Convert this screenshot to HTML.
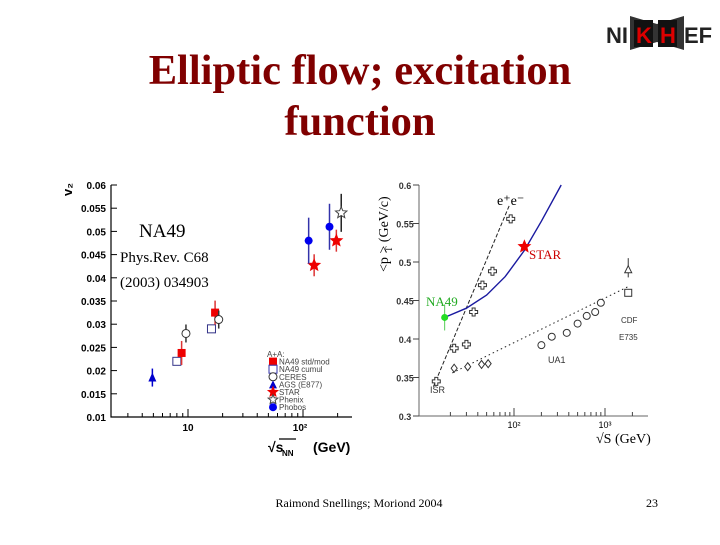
<!DOCTYPE html>
<html><head><meta charset="utf-8"><style>
body{margin:0;width:720px;height:540px;background:#fff;overflow:hidden;font-family:"Liberation Serif",serif}
svg text{font-family:"Liberation Sans",sans-serif}
</style></head><body>
<svg width="720" height="540">
<text x="360" y="84" text-anchor="middle" font-size="42.5" font-weight="bold" fill="#800000" style="font-family:'Liberation Serif',serif">Elliptic flow; excitation</text>
<text x="360" y="135" text-anchor="middle" font-size="42.5" font-weight="bold" fill="#800000" style="font-family:'Liberation Serif',serif">function</text>
<g>
<path d="M630,16 L657,24 L684,16 L684,50 L657,42 L630,50 Z" fill="#333"/>
<text x="606" y="43" font-size="22" font-weight="bold" fill="#222">NI</text>
<rect x="634" y="20" width="19" height="27" fill="#111"/><text x="636" y="43" font-size="22" font-weight="bold" fill="#d00">K</text>
<rect x="658" y="20" width="19" height="27" fill="#111"/><text x="660" y="43" font-size="22" font-weight="bold" fill="#d00">H</text>
<text x="684" y="43" font-size="22" font-weight="bold" fill="#222">EF</text>
</g>
<g id="left"></g>
<g id="right"></g>
<text x="359" y="507" text-anchor="middle" font-size="12" style="font-family:'Liberation Serif',serif">Raimond Snellings; Moriond 2004</text>
<text x="652" y="507" text-anchor="middle" font-size="12" style="font-family:'Liberation Serif',serif">23</text>
</svg>
<script>
const NS="http://www.w3.org/2000/svg";
// left chart data
const v2Ticks=[0.01,0.015,0.02,0.025,0.03,0.035,0.04,0.045,0.05,0.055,0.06];
const agsX=[4.9], agsY=[0.0185];
const na49cumX=[8.0,16.0], na49cumY=[0.022,0.029];
const na49stdX=[8.8,17.2], na49stdY=[0.0238,0.0325];
const ceresX=[9.6,18.5], ceresY=[0.028,0.031];
const starX=[125,195], starY=[0.0427,0.048];
const phenixX=[215], phenixY=[0.054];
const phobosX=[112,170], phobosY=[0.048,0.051];
// right chart data
const ptTicks=[0.3,0.35,0.4,0.45,0.5,0.55,0.6];
const eeX=[14,22,30,36,45,58,92], eeY=[0.345,0.388,0.393,0.435,0.47,0.488,0.556];
const isrX=[22,31,44,52], isrY=[0.362,0.364,0.367,0.368];
const ua1X=[200,260,380,500,630,780,900], ua1Y=[0.392,0.403,0.408,0.42,0.43,0.435,0.447];
const na49X=[17.3], na49Y=[0.428];
const starPtX=[130], starPtY=[0.52];
const fitX=[17.3,30,50,80,130,200,330], fitY=[0.428,0.44,0.457,0.481,0.515,0.553,0.6];
const eeLineX=[13,90], eeLineY=[0.338,0.575];
const dotLineX=[21,1800], dotLineY=[0.356,0.468];

function el(p,t,a,name,txt){const e=document.createElementNS(NS,t);for(const k in a)e.setAttribute(k,a[k]);


if(txt!==undefined)e.textContent=txt;p.appendChild(e);return e;}
const L=document.getElementById('left'),R=document.getElementById('right');
// left axes
const lx=v=>188+115*Math.log10(v/10), ly=v=>417-(v-0.01)/0.05*232;
el(L,'polyline',{points:"111,185 111,417 352,417",fill:"none",stroke:"#000","stroke-width":1.2},'left-axes');
v2Ticks.forEach(t=>{el(L,'line',{x1:111,x2:117,y1:ly(t),y2:ly(t),stroke:"#000"},'y-tick');
el(L,'text',{x:106,y:ly(t)+4,"text-anchor":"end","font-size":10,"font-weight":"bold"},'y-tick-label',String(t));});
for(let d=3;d<=300;){const p=Math.floor(Math.log10(d));const x=lx(d);if(x<=352){const big=(d===10||d===100);
el(L,'line',{x1:x,x2:x,y1:417,y2:417-(big?8:4),stroke:"#000"},'x-tick');}d+=Math.pow(10,p);}
el(L,'text',{x:188,y:431,"text-anchor":"middle","font-size":10,"font-weight":"bold"},'x-tick-label','10');
el(L,'text',{x:300,y:431,"text-anchor":"middle","font-size":10,"font-weight":"bold"},'x-tick-label','10²');
el(L,'text',{x:268,y:452,"font-size":14,"font-weight":"bold"},'x-axis-title','√s');
el(L,'line',{x1:279,x2:296,y1:439,y2:439,stroke:"#000","stroke-width":1.3},'sqrt-bar');
el(L,'text',{x:282,y:456,"font-size":8,"font-weight":"bold"},'x-axis-sub','NN');
el(L,'text',{x:313,y:452,"font-size":14,"font-weight":"bold"},'x-axis-unit','(GeV)');
el(L,'text',{x:72,y:196,"font-size":13,"font-weight":"bold",transform:"rotate(-90 72 196)"},'y-axis-title','v₂');
el(L,'text',{x:139,y:237,"font-size":19,style:"font-family:'Liberation Serif',serif"},'na49-label','NA49');
el(L,'text',{x:120,y:262,"font-size":15,style:"font-family:'Liberation Serif',serif"},'ref-label','Phys.Rev. C68');
el(L,'text',{x:120,y:287,"font-size":15,style:"font-family:'Liberation Serif',serif"},'ref-label','(2003) 034903');
function err(p,x,y1,y2,c){el(p,'line',{x1:x,x2:x,y1:y1,y2:y2,stroke:c,"stroke-width":1.5},'error-bar');}
function star(p,cx,cy,r,fill,stroke){let pts=[];for(let i=0;i<10;i++){const a=-Math.PI/2+i*Math.PI/5,rr=i%2?r*0.45:r;pts.push((cx+rr*Math.cos(a)).toFixed(1)+","+(cy+rr*Math.sin(a)).toFixed(1));}
return el(p,'polygon',{points:pts.join(" "),fill:fill,stroke:stroke},'star-marker');}
agsX.forEach((v,i)=>{const x=lx(v),y=ly(agsY[i]);err(L,x,y-9,y+9,"#00c");el(L,'polygon',{points:`${x-4},${y+4} ${x+4},${y+4} ${x},${y-5}`,fill:"#00c"},'ags-point');});
na49cumX.forEach((v,i)=>{const x=lx(v),y=ly(na49cumY[i]);el(L,'rect',{x:x-4,y:y-4,width:8,height:8,fill:"none",stroke:"#338"},'na49-cumul-point');});
na49stdX.forEach((v,i)=>{const x=lx(v),y=ly(na49stdY[i]);err(L,x,y-12,y+12,"#d33");el(L,'rect',{x:x-4,y:y-4,width:8,height:8,fill:"#e00"},'na49-std-point');});
ceresX.forEach((v,i)=>{const x=lx(v),y=ly(ceresY[i]);err(L,x,y-9,y+9,"#333");el(L,'circle',{cx:x,cy:y,r:4,fill:"#fff",stroke:"#333"},'ceres-point');});
starX.forEach((v,i)=>{const x=lx(v),y=ly(starY[i]);err(L,x,y-11,y+11,"#d33");star(L,x,y,6,"#e00","#e00");});
phobosX.forEach((v,i)=>{const x=lx(v),y=ly(phobosY[i]);err(L,x,y-23,y+23,"#33a");el(L,'circle',{cx:x,cy:y,r:4,fill:"#00e"},'phobos-point');});
phenixX.forEach((v,i)=>{const x=lx(v),y=ly(phenixY[i]);err(L,x,y-19,y+19,"#222");star(L,x,y,6,"#fff","#444");});
// legend
const lg=[["A+A:",null],["NA49 std/mod","sq"],["NA49 cumul","osq"],["CERES","oc"],["AGS (E877)","tri"],["STAR","st"],["Phenix","ost"],["Phobos","c"]];
lg.forEach((e,i)=>{const y=354+i*7.6;el(L,'text',{x:i?279:267,y:y+3,"font-size":8,fill:"#444"},'legend-entry',e[0]);
const x=273;if(e[1]==="sq")el(L,'rect',{x:x-4,y:y-4,width:8,height:8,fill:"#e00"},'legend-marker');
if(e[1]==="osq")el(L,'rect',{x:x-4,y:y-4,width:8,height:8,fill:"none",stroke:"#33a"},'legend-marker');
if(e[1]==="oc")el(L,'circle',{cx:x,cy:y,r:4,fill:"#fff",stroke:"#333"},'legend-marker');
if(e[1]==="tri")el(L,'polygon',{points:`${x-4},${y+4} ${x+4},${y+4} ${x},${y-4}`,fill:"#00c"},'legend-marker');
if(e[1]==="st")star(L,x,y,5,"#e00","#e00");if(e[1]==="ost")star(L,x,y,5,"#fff","#444");
if(e[1]==="c")el(L,'circle',{cx:x,cy:y,r:4,fill:"#00e"},'legend-marker');});
// right chart
const rx=v=>514+91*Math.log10(v/100), ry=v=>416-(v-0.3)/0.3*231;
el(R,'polyline',{points:"419,185 419,416 648,416",fill:"none",stroke:"#666","stroke-width":1},'right-axes');
ptTicks.forEach(t=>{el(R,'line',{x1:419,x2:413,y1:ry(t),y2:ry(t),stroke:"#444"},'y-tick');
el(R,'text',{x:405,y:ry(t)+4,"text-anchor":"middle","font-size":9,"font-weight":"bold",fill:"#333"},'y-tick-label',String(t));});
for(let d=20;d<=3000;){const p=Math.floor(Math.log10(d));const x=rx(d);if(x<=648&&x>419){const big=(d===100||d===1000);
el(R,'line',{x1:x,x2:x,y1:416,y2:416-(big?8:4),stroke:"#444"},'x-tick');}d+=Math.pow(10,p);}
el(R,'text',{x:514,y:428,"text-anchor":"middle","font-size":9},'x-tick-label','10²');
el(R,'text',{x:605,y:428,"text-anchor":"middle","font-size":9},'x-tick-label','10³');
el(R,'text',{x:596,y:443,"font-size":14,style:"font-family:'Liberation Serif',serif"},'x-axis-title','√S (GeV)');
el(R,'text',{x:388,y:272,"font-size":14,style:"font-family:'Liberation Serif',serif",transform:"rotate(-90 388 272)"},'y-axis-title','<p  > (GeV/c)');
el(R,'text',{x:392,y:252,"font-size":9,style:"font-family:'Liberation Serif',serif",transform:"rotate(-90 392 252)"},'y-axis-sub','T');
const line=(xs,ys)=>xs.map((v,i)=>rx(v).toFixed(1)+","+ry(ys[i]).toFixed(1)).join(" ");
el(R,'polyline',{points:line(eeLineX,eeLineY),fill:"none",stroke:"#222","stroke-dasharray":"4,2"},'ee-fit-line');
el(R,'polyline',{points:line(dotLineX,dotLineY),fill:"none",stroke:"#222","stroke-dasharray":"1.5,3"},'pp-fit-line');
el(R,'polyline',{points:line(fitX,fitY),fill:"none",stroke:"#1a1aa0","stroke-width":1.4},'na49-star-fit');
function cross(x,y){el(R,'path',{d:`M${x-1.5},${y-4}h3v2.5h2.5v3h-2.5v2.5h-3v-2.5h-2.5v-3h2.5z`,fill:"#fff",stroke:"#333"},'ee-point');}
eeX.forEach((v,i)=>cross(rx(v),ry(eeY[i])));
isrX.forEach((v,i)=>{const x=rx(v),y=ry(isrY[i]);el(R,'polygon',{points:`${x},${y-4} ${x+3},${y} ${x},${y+4} ${x-3},${y}`,fill:"#fff",stroke:"#333"},'isr-point');});
ua1X.forEach((v,i)=>{const x=rx(v),y=ry(ua1Y[i]);el(R,'circle',{cx:x,cy:y,r:3.5,fill:"#fff",stroke:"#333"},'ua1-point');});
{const x=rx(1800);el(R,'rect',{x:x-3.5,y:ry(0.46)-3.5,width:7,height:7,fill:"#fff",stroke:"#333"},'cdf-point');
el(R,'line',{x1:x,x2:x,y1:ry(0.505),y2:ry(0.48),stroke:"#333"},'e735-error');
el(R,'polygon',{points:`${x-3.5},${ry(0.49)+3} ${x+3.5},${ry(0.49)+3} ${x},${ry(0.49)-4}`,fill:"#fff",stroke:"#333"},'e735-point');}
na49X.forEach((v,i)=>{const x=rx(v),y=ry(na49Y[i]);el(R,'line',{x1:x,x2:x,y1:y-13,y2:y+13,stroke:"#5c5"},'na49-error');el(R,'circle',{cx:x,cy:y,r:3.5,fill:"#2d2"},'na49-pt-point');});
starPtX.forEach((v,i)=>star(R,rx(v),ry(starPtY[i]),6,"#e00","#e00"));
el(R,'text',{x:497,y:205,"font-size":14,style:"font-family:'Liberation Serif',serif"},'ee-label','e⁺e⁻');
el(R,'text',{x:529,y:259,"font-size":13,fill:"#c00",style:"font-family:'Liberation Serif',serif"},'star-label','STAR');
el(R,'text',{x:426,y:306,"font-size":13,fill:"#2a2",style:"font-family:'Liberation Serif',serif"},'na49-pt-label','NA49');
el(R,'text',{x:430,y:393,"font-size":9,fill:"#333"},'isr-label','ISR');
el(R,'text',{x:548,y:363,"font-size":9,fill:"#333"},'ua1-label','UA1');
el(R,'text',{x:621,y:323,"font-size":8,fill:"#333"},'cdf-label','CDF');
el(R,'text',{x:619,y:340,"font-size":8,fill:"#333"},'e735-label','E735');
</script>
</body></html>
